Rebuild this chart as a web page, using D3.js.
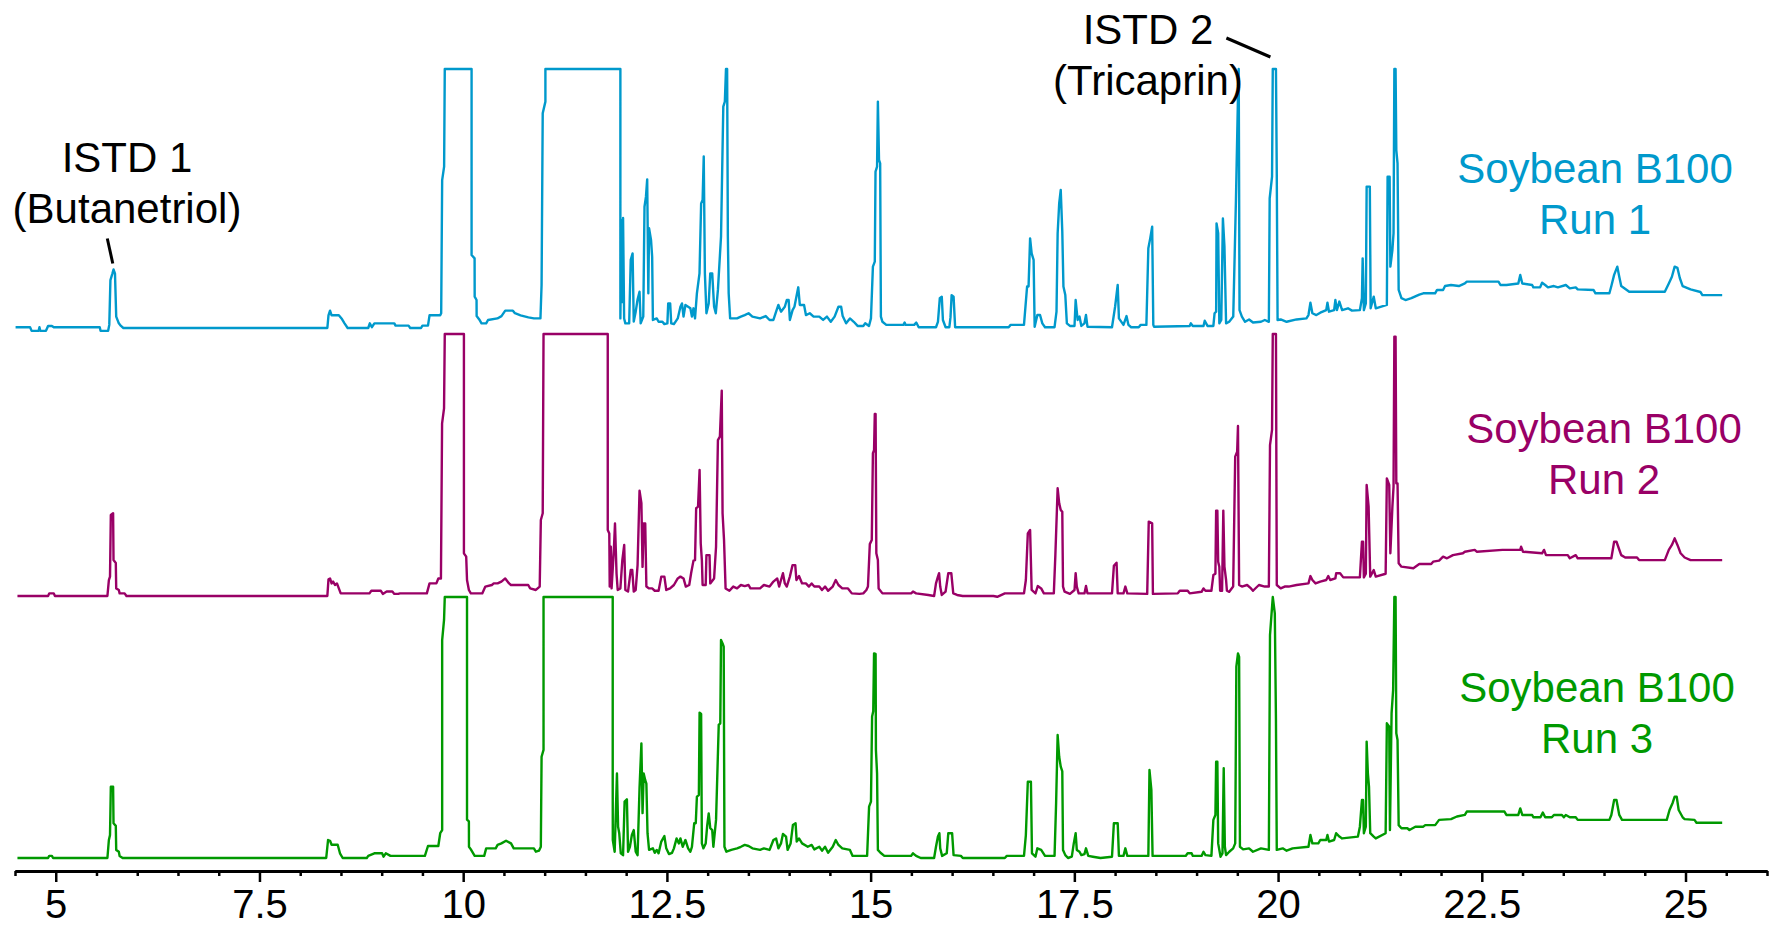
<!DOCTYPE html>
<html><head><meta charset="utf-8">
<script src="https://cdn.jsdelivr.net/npm/d3@7"></script>
<style>
body{margin:0;background:#fff}
svg{display:block}
text{font-family:"Liberation Sans",Arial,Helvetica,sans-serif}
</style>
</head><body>
<svg id="chart" width="1771" height="927"></svg>
<script>
// Retention time (min) vs. detector response (% of full scale, clipped at 100)
const run1 = [
[4.507,0.3],[4.685,0.3],[4.704,-1.1],[4.79,-1.1],[4.80,0.3],[4.81,-1.1],[4.88,-1.1],[4.906,0.8],[4.953,0.8],[4.976,0.3],[5.54,0.3],[5.55,-1.1],[5.643,-1.1],[5.657,1.2],[5.671,18.5],[5.695,21],[5.709,22.6],[5.727,21],[5.742,4.4],[5.774,1.8],[5.80,0.8],[5.83,0],
[8.333,0],[8.347,4.9],[8.366,6.7],[8.385,4.9],[8.474,4.9],[8.507,3.7],[8.544,1.8],[8.582,0],[8.835,0],[8.854,1.8],[8.88,0.3],[8.91,1.8],[9.155,1.8],[9.17,0.9],[9.33,0.9],[9.35,0],[9.483,0],[9.50,0.9],[9.568,0.9],[9.587,4.9],[9.718,4.9],[9.73,5.7],[9.742,57.1],[9.766,62.3],[9.774,100],[10.103,100],[10.103,28.2],[10.14,26.9],[10.141,12.1],[10.164,10.8],[10.165,4.6],[10.197,3.3],[10.225,1.8],[10.282,1.8],[10.305,3.1],[10.42,3.7],[10.47,4.6],[10.516,6.7],[10.61,6.7],[10.635,5.7],[10.704,4.9],[10.80,4.1],[10.868,3.7],[10.948,3.7],[10.962,16.6],[10.976,82.9],[11.009,87.4],[11.009,100],
[11.929,100],[11.929,3.7],[11.943,41.7],[11.955,10],[11.962,42.5],[11.975,3.7],[11.99,1.8],[12.037,1.8],[12.056,26.3],[12.079,28.8],[12.093,2.5],[12.117,6.3],[12.14,11],[12.164,14],[12.178,1.8],[12.21,4.4],[12.225,46.8],[12.243,50.7],[12.258,57.4],[12.272,13.4],[12.281,38.5],[12.305,34],[12.319,27.5],[12.328,3.1],[12.375,3.7],[12.398,2.4],[12.445,2.4],[12.469,1.5],[12.506,1.8],[12.516,9.5],[12.54,9.5],[12.553,1.8],[12.586,1.5],[12.633,3.7],[12.666,8.2],[12.685,9.5],[12.704,4.4],[12.727,8.9],[12.76,8.2],[12.788,7.6],[12.807,4.4],[12.826,7.6],[12.845,3.7],[12.868,13.4],[12.9,21.1],[12.92,48.1],[12.938,49.4],[12.952,66.2],[12.966,21.1],[12.985,5.7],[13.013,9.5],[13.032,21.1],[13.056,21.1],[13.079,8.2],[13.1,5.7],[13.126,14.7],[13.164,35.3],[13.192,85.5],[13.211,87.4],[13.225,100],[13.239,100],[13.248,35.3],[13.258,13.4],[13.276,3.7],[13.36,3.7],[13.408,4.4],[13.455,5],[13.502,5.7],[13.549,4.4],[13.643,3.7],[13.713,4.6],[13.76,3.1],[13.807,3.1],[13.84,6.3],[13.868,8.9],[13.9,6.3],[13.947,8.2],[13.971,10.8],[13.994,10.8],[14.009,3.1],[14.042,6.9],[14.065,8.2],[14.089,12.1],[14.112,15.7],[14.131,8.9],[14.183,8.9],[14.206,5],[14.253,5.7],[14.3,4.4],[14.37,4.4],[14.417,3.1],[14.464,4.4],[14.511,2.4],[14.558,4.4],[14.605,8.2],[14.638,8.2],[14.657,4.6],[14.699,1.8],[14.746,3.7],[14.793,2.4],[14.84,0.8],[14.91,0.8],[14.934,1.8],[14.98,0.8],[15.004,3.7],[15.028,23.7],[15.051,25.6],[15.06,60.4],[15.079,62.3],[15.089,87.4],[15.103,64.9],[15.117,63.6],[15.126,4.4],[15.145,2.4],[15.192,1.2],[15.403,1.2],[15.417,2.1],[15.43,1.2],[15.535,1.2],[15.56,2.1],[15.59,0.3],[15.802,0.3],[15.826,2.4],[15.849,11.5],[15.873,12.1],[15.887,3.1],[15.92,0.3],[15.966,0.3],[15.98,4.1],[15.994,12.7],[16.018,12.1],[16.037,0.3],[16.694,0.3],[16.718,1.2],[16.882,1.2],[16.92,16],[16.938,16],[16.957,34.6],[16.976,28.8],[17.0,26.3],[17.013,0.5],[17.046,5],[17.079,5],[17.107,1.8],[17.14,0.3],[17.257,0.3],[17.281,6.3],[17.295,36.6],[17.314,48.1],[17.333,53.3],[17.352,37.2],[17.366,16],[17.389,12.7],[17.408,1.8],[17.446,0.8],[17.502,0.8],[17.516,10.8],[17.54,3.1],[17.563,4.4],[17.586,0.8],[17.624,1.8],[17.643,5],[17.661,0.5],[17.962,0.3],[18.0,8.2],[18.032,16.6],[18.047,3.7],[18.103,1.2],[18.14,4.6],[18.164,1.2],[18.197,0.3],[18.29,0.3],[18.314,1.2],[18.384,1.2],[18.408,30.8],[18.431,34.6],[18.455,39.1],[18.469,1.2],
[18.478,0.5],[18.915,0.8],[18.93,1.8],[18.953,0.8],[19.085,0.8],[19.10,2.8],[19.134,0.8],[19.206,0.8],[19.221,5.7],[19.24,6.3],[19.245,40.4],[19.265,36.6],[19.279,1.8],[19.303,3.1],[19.323,42.3],[19.342,31.4],[19.362,1.8],[19.40,2.4],[19.45,4.4],[19.483,49.4],[19.508,89.3],[19.517,100],[19.527,6.9],[19.556,4.4],[19.595,2.4],[19.644,3.3],[19.693,2.1],[19.79,2.4],[19.838,3.1],[19.887,2.4],[19.897,50],[19.926,58.4],[19.935,100],[19.974,100],[19.984,59.7],[19.994,3.1],[20.032,3.3],[20.105,2.4],[20.227,3.3],[20.348,3.7],[20.373,5],[20.397,9.8],[20.421,5.7],[20.47,5],[20.518,5.9],[20.591,6.9],[20.606,9.8],[20.625,6.3],[20.688,6.9],[20.703,10.8],[20.722,6.9],[20.752,10.2],[20.786,6.9],[20.858,7.6],[20.907,6.7],[21.004,6.9],[21.029,11.5],[21.038,26.9],[21.053,6.9],[21.077,9.5],[21.087,54.6],[21.126,54.6],[21.136,7.6],[21.174,12.1],[21.199,7.6],[21.335,8.9],[21.344,58.4],[21.369,58.4],[21.378,23.7],[21.403,30.1],[21.417,36.6],[21.427,100],[21.442,100],[21.451,68.7],[21.466,63.6],[21.48,14.7],[21.514,11.5],[21.563,10.8],[21.636,11.5],[21.733,12.9],[21.782,13.4],[21.927,13.4],[21.951,14.7],[22.025,14.7],[22.049,16.2],[22.122,16.6],[22.219,16.2],[22.292,17.2],[22.316,17.9],[22.705,17.9],[22.729,16.6],[22.802,16.6],[22.948,17.2],[22.972,20.5],[22.997,17.2],[23.118,16.6],[23.133,15.7],[23.216,15.7],[23.24,17.5],[23.278,16.6],[23.312,15.7],[23.385,16.2],[23.434,15.7],[23.531,16.6],[23.58,15.3],[23.653,15.7],[23.677,14.9],[23.871,14.7],[23.895,13.4],[24.066,13.4],[24.09,16.2],[24.124,20.5],[24.163,23.7],[24.187,19.8],[24.211,16.2],[24.309,14],[24.746,14],[24.795,17.2],[24.833,19.8],[24.867,23.7],[24.901,23.2],[24.93,19.3],[24.965,16.2],[25.062,14.9],[25.183,13.9],[25.207,12.7],[25.45,12.7]
];
const run2 = [
[4.53,0],[4.906,0],[4.92,1],[4.976,1],[4.99,0],[5.634,0],[5.652,6.1],[5.666,7.4],[5.676,30.9],[5.704,31.6],[5.709,13.7],[5.737,12.6],[5.742,2.9],[5.774,2.3],[5.784,1],[5.845,1],[5.868,0],[8.333,0],[8.347,6.4],[8.366,6.7],[8.385,4.8],[8.404,5.5],[8.427,4.2],[8.451,4.8],[8.474,2.9],[8.497,1],[8.85,1],[8.873,2],[8.99,2],[9.014,0.8],[9.061,1.7],[9.131,1.7],[9.155,0.8],[9.202,0.8],[9.225,1],[9.554,1],[9.587,4.8],[9.671,4.8],[9.695,6.7],[9.727,6.7],[9.741,65.9],[9.765,71.6],[9.774,100],[10.009,100],[10.009,16.3],[10.037,15],[10.047,6.1],[10.07,2.3],[10.094,1],[10.234,1],[10.272,3.6],[10.352,4.2],[10.375,4.8],[10.422,4.8],[10.469,5.5],[10.516,6.7],[10.563,4.8],[10.586,4.2],[10.798,4.2],[10.822,2.9],[10.892,2.3],[10.939,3.6],[10.953,29],[10.976,31.6],[10.986,100],
[11.774,100],[11.774,25.2],[11.793,23.9],[11.798,3.6],[11.812,18.8],[11.821,2.9],[11.849,17.6],[11.863,27.7],[11.882,8.5],[11.896,2.3],[11.929,2.9],[11.953,13.7],[11.976,19.5],[11.99,2.3],[12.023,1.7],[12.056,9.9],[12.075,9.9],[12.093,1.7],[12.117,2.3],[12.14,11.8],[12.164,40.2],[12.187,35.4],[12.201,11.1],[12.215,27.7],[12.234,27.7],[12.248,3.6],[12.281,2.9],[12.319,2.9],[12.351,2],[12.398,2],[12.431,7.4],[12.469,7.4],[12.492,2.3],[12.539,2.9],[12.586,4.2],[12.633,6.7],[12.666,7.4],[12.704,6.7],[12.732,3.6],[12.774,4.2],[12.797,8.7],[12.826,13.5],[12.845,13.7],[12.859,33.5],[12.882,34.1],[12.901,48.1],[12.915,20.1],[12.929,13.7],[12.938,4.2],[12.976,4.2],[12.985,15.6],[13.023,15.6],[13.032,4.8],[13.079,6.7],[13.103,18.8],[13.126,59.5],[13.15,60.8],[13.173,78.4],[13.183,31.6],[13.201,21.4],[13.22,2.9],[13.267,2],[13.314,3.6],[13.361,2.9],[13.408,4.2],[13.455,3.8],[13.502,4.2],[13.525,2.9],[13.643,2.9],[13.69,4.2],[13.76,3.6],[13.807,5.5],[13.854,6.7],[13.877,3.6],[13.9,6.1],[13.924,8.7],[13.947,4.8],[13.971,3.6],[14.009,7.4],[14.042,11.8],[14.075,11.8],[14.089,6.1],[14.121,7.6],[14.159,4.8],[14.206,4.8],[14.243,3.6],[14.276,4.8],[14.309,3.6],[14.37,3.6],[14.403,2.3],[14.441,3.6],[14.478,2],[14.535,3.6],[14.572,6.1],[14.605,4.2],[14.652,2.9],[14.722,2.9],[14.769,1],[14.863,0.8],[14.91,1],[14.948,2.3],[14.967,3.6],[14.99,19.8],[15.014,21.4],[15.028,54.5],[15.042,55.7],[15.051,69.5],[15.061,69.5],[15.07,16.3],[15.089,13.7],[15.098,2.9],[15.145,1],[15.497,1],[15.52,1.7],[15.558,1],[15.708,0.4],[15.779,0],[15.802,4.8],[15.826,7.4],[15.84,8.7],[15.854,3.6],[15.873,0.4],[15.92,1.7],[15.953,8.7],[15.99,8.7],[16.014,1],[16.061,0.4],[16.13,0],[16.507,0],[16.554,-0.3],[16.647,1],[16.882,1],[16.905,6.1],[16.929,23.9],[16.957,25.2],[16.976,2.3],[17.023,1],[17.051,3.8],[17.093,2.9],[17.126,1],[17.248,1],[17.267,15.6],[17.295,41.1],[17.314,35.4],[17.333,32.8],[17.352,32.1],[17.361,3.6],[17.38,1.7],[17.446,0.8],[17.502,2.3],[17.516,8.7],[17.53,3.6],[17.553,1],[17.624,1],[17.643,3.8],[17.661,1],[17.962,1],[17.985,11.5],[18.018,12.7],[18.032,1],[18.103,1],[18.126,3.6],[18.15,1],[18.394,0.8],[18.413,28.4],[18.455,27.7],[18.464,0.8],
[18.769,1],[18.793,2],[18.891,2],[18.915,1],[19.061,1.6],[19.085,2.9],[19.109,2],[19.182,2],[19.206,8],[19.231,8.5],[19.24,32.6],[19.255,32.6],[19.265,13.1],[19.279,11.2],[19.289,2],[19.313,2],[19.328,32.6],[19.342,11.2],[19.362,6.1],[19.372,2],[19.401,1.6],[19.449,3.6],[19.474,53.2],[19.498,55.1],[19.508,64.9],[19.522,4.2],[19.556,3.6],[19.62,4.2],[19.668,2.9],[19.692,2],[19.765,4.2],[19.838,3.6],[19.887,3.6],[19.901,57.6],[19.926,63.4],[19.935,100],[19.974,100],[19.984,4.2],[20.032,2.9],[20.081,3.6],[20.13,3.6],[20.227,4.2],[20.373,4.8],[20.397,7.6],[20.421,6.1],[20.46,4.8],[20.518,5.5],[20.591,6.1],[20.616,7.6],[20.64,6.1],[20.703,6.7],[20.713,8.7],[20.761,8.7],[20.8,7.1],[21.004,7.1],[21.029,20.7],[21.043,20.7],[21.053,7.1],[21.077,8.5],[21.087,42.4],[21.111,34.1],[21.131,7.4],[21.174,9.9],[21.199,7.4],[21.32,8.5],[21.335,44.9],[21.364,42.4],[21.378,16.3],[21.403,34.1],[21.417,41.7],[21.427,99],[21.442,99],[21.451,43],[21.466,43],[21.48,12.5],[21.514,11.2],[21.66,10.6],[21.733,12.2],[21.879,12.2],[21.903,13.1],[21.976,13.5],[22.025,15],[22.073,14.4],[22.146,15.6],[22.268,16.3],[22.292,16.9],[22.413,17.6],[22.438,16.9],[22.753,17.6],[22.972,17.6],[22.982,18.8],[23.006,16.9],[23.24,16.3],[23.264,17.6],[23.288,15.6],[23.555,15.6],[23.58,14.4],[23.653,15.6],[23.677,14.4],[24.09,14.4],[24.124,20.7],[24.153,20.7],[24.211,15.6],[24.26,14.7],[24.405,14.7],[24.43,13.7],[24.746,13.7],[24.795,17.6],[24.833,19.5],[24.867,22],[24.901,19.5],[24.94,16.3],[24.989,14.7],[25.062,13.7],[25.45,13.7]
];
const run3 = [
[4.53,0],[4.906,0],[4.92,0.8],[4.953,0.8],[4.967,0],[5.634,0],[5.652,6.9],[5.666,8.8],[5.676,27.3],[5.704,27.3],[5.709,13.3],[5.737,12.3],[5.742,3.1],[5.774,2.4],[5.784,0.8],[5.821,0],[8.319,0],[8.342,6.9],[8.366,6.6],[8.385,5.1],[8.46,5.1],[8.488,1.8],[8.521,0],[8.817,0],[8.835,0.8],[8.91,1.8],[9.005,1.8],[9.023,0.5],[9.05,1.8],[9.108,0.8],[9.53,0.8],[9.568,4.6],[9.695,4.6],[9.718,9.5],[9.742,10.7],[9.742,83.5],[9.765,91.2],[9.774,100],[10.047,100],[10.047,14.7],[10.07,14],[10.071,4.3],[10.094,3.3],[10.141,0.8],[10.258,0.8],[10.282,3.7],[10.399,3.7],[10.422,5],[10.469,5.6],[10.526,6.6],[10.587,5.6],[10.62,3.7],[10.868,3.7],[10.892,2.4],[10.93,2.8],[10.953,4.3],[10.962,38.8],[10.986,41.4],[10.986,100],
[11.835,100],[11.835,27.3],[11.836,6.9],[11.859,2.4],[11.868,12],[11.887,32.4],[11.901,12],[11.915,9.5],[11.934,1.8],[11.962,1.1],[11.981,21.6],[12.009,22.5],[12.023,2.4],[12.046,4.3],[12.07,8.8],[12.093,10.7],[12.117,2.4],[12.14,1.1],[12.164,26.7],[12.187,43.9],[12.201,17.2],[12.215,32.4],[12.234,29.8],[12.248,28.5],[12.262,9.5],[12.281,3.1],[12.328,3.7],[12.351,2],[12.375,3.1],[12.398,1.8],[12.431,6.3],[12.469,8.4],[12.492,3.7],[12.525,1.5],[12.563,2],[12.586,3.7],[12.619,7.5],[12.647,5.6],[12.666,7.5],[12.694,4.3],[12.727,6.9],[12.76,3.7],[12.788,2.4],[12.807,4.3],[12.835,13.3],[12.854,13.3],[12.868,23.5],[12.892,24.1],[12.901,55.7],[12.92,55.2],[12.929,5.6],[12.948,3.7],[12.976,5.6],[12.995,12.6],[13.013,17.1],[13.032,11.4],[13.056,10.7],[13.07,4.3],[13.103,14.6],[13.136,51],[13.155,51.6],[13.164,83.5],[13.183,82.2],[13.197,81],[13.206,4.3],[13.23,2.4],[13.29,3.1],[13.361,3.7],[13.408,4.3],[13.455,5],[13.502,4.6],[13.549,3.7],[13.643,3.1],[13.69,3.7],[13.76,3.1],[13.807,6.9],[13.84,7.5],[13.868,3.7],[13.9,5.6],[13.924,9.2],[13.962,8.2],[13.981,3.1],[14.018,5.6],[14.046,12.6],[14.079,13.3],[14.093,6.3],[14.121,7.5],[14.159,5.6],[14.229,4.3],[14.276,5],[14.309,3.3],[14.37,4.3],[14.403,2.8],[14.441,4.3],[14.478,2],[14.535,4.3],[14.572,6.9],[14.605,5],[14.652,3.7],[14.746,3.1],[14.779,0.8],[14.957,0.8],[14.981,19.7],[15.004,21.6],[15.018,54.2],[15.032,56.2],[15.042,78.4],[15.061,78.2],[15.065,41.4],[15.079,32.4],[15.089,3.1],[15.121,2],[15.168,0.8],[15.497,0.8],[15.52,1.8],[15.558,0.8],[15.614,0],[15.779,0],[15.802,4.3],[15.826,8.2],[15.844,9.5],[15.854,3.7],[15.877,0.8],[15.934,1.8],[15.953,9.5],[16.0,9.5],[16.018,1.1],[16.108,0.8],[16.131,0],[16.647,0],[16.671,0.8],[16.882,0.8],[16.905,8.8],[16.929,29.2],[16.967,29.2],[16.98,1.8],[17.023,0.5],[17.046,3.7],[17.093,3.1],[17.14,0.8],[17.257,0.8],[17.276,20.9],[17.295,47.1],[17.314,38.8],[17.333,35],[17.352,33.2],[17.361,3.1],[17.389,1.1],[17.422,0],[17.469,0.5],[17.493,5.6],[17.516,9.5],[17.53,3.1],[17.563,2.4],[17.586,1.1],[17.624,1.5],[17.643,3.7],[17.671,0.8],[17.727,0.5],[17.821,0],[17.962,0.5],[17.985,13.3],[18.032,13.3],[18.047,0.8],[18.103,0.8],[18.126,3.7],[18.15,0.8],[18.408,0.8],[18.422,33.7],[18.445,26.1],[18.46,0.8],
[18.866,0.8],[18.89,1.8],[18.939,1.8],[18.954,0.8],[19.061,0.8],[19.085,2.4],[19.109,1.1],[19.182,0.8],[19.206,14.6],[19.231,16.5],[19.24,36.9],[19.255,36.9],[19.265,5.6],[19.294,0.5],[19.318,1.8],[19.333,34.4],[19.347,4.3],[19.362,1.1],[19.401,2.4],[19.449,3.7],[19.474,5.6],[19.488,73.3],[19.508,78.4],[19.522,77.1],[19.532,4.3],[19.571,3.3],[19.644,3.7],[19.692,2.4],[19.79,3.7],[19.887,3.1],[19.901,85.4],[19.935,100],[19.96,93.7],[19.974,52.9],[19.984,3.1],[20.057,3.7],[20.105,2.8],[20.178,3.7],[20.373,4.3],[20.397,8.8],[20.421,5.6],[20.494,5.6],[20.518,6.9],[20.591,6.9],[20.606,8.8],[20.625,6.3],[20.688,6.9],[20.713,9.5],[20.752,8.2],[20.786,7.5],[20.98,8.2],[21.004,12],[21.029,22.2],[21.043,22.2],[21.053,9.5],[21.077,12],[21.087,44.6],[21.102,32.4],[21.116,27.3],[21.131,9.5],[21.174,8.2],[21.199,7.5],[21.32,9.5],[21.335,51.6],[21.364,50.3],[21.373,10.7],[21.393,55.4],[21.412,64.4],[21.427,100],[21.442,100],[21.451,47.8],[21.466,45.2],[21.48,12.6],[21.514,11.4],[21.587,11.4],[21.612,10.7],[21.685,12],[21.782,12],[21.806,12.6],[21.928,12.6],[21.976,14.6],[22.122,14.9],[22.195,15.9],[22.292,16.5],[22.316,17.8],[22.778,17.8],[22.802,16.5],[22.948,16.5],[22.972,19],[22.997,16.5],[23.118,16.5],[23.133,15.6],[23.22,15.6],[23.249,17.4],[23.278,15.6],[23.36,15.6],[23.385,16.5],[23.483,16.5],[23.507,15.6],[23.531,16.5],[23.58,15.6],[23.653,15.6],[23.677,14.6],[24.066,14.6],[24.09,16.5],[24.124,22.2],[24.153,22.2],[24.187,16.5],[24.221,14.6],[24.77,14.6],[24.804,18.4],[24.843,21.2],[24.867,23.5],[24.892,23.5],[24.916,18.4],[24.965,15.6],[24.989,14.9],[25.11,14.6],[25.135,13.5],[25.45,13.5]
];

const xDomain = [4.5, 26];
const majorTicks = [5, 7.5, 10, 12.5, 15, 17.5, 20, 22.5, 25];
const tickLabels = ["5", "7.5", "10", "12.5", "15", "17.5", "20", "22.5", "25"];
const minorTicks = [4.5,5.5,6,6.5,7,8,8.5,9,9.5,10.5,11,11.5,12,13,13.5,14,14.5,15.5,16,16.5,17,18,18.5,19,19.5,20.5,21,21.5,22,23,23.5,24,24.5,25.5,26];
const seriesNames = ["Run 1", "Run 2", "Run 3"];
const seriesTitle = "Soybean B100";
const annotations = [["ISTD 1", "(Butanetriol)"], ["ISTD 2", "(Tricaprin)"]];
const annotatedPeaks = [[5.70, 22.6], [19.955, 100]]; // peaks the leader lines point to (Run 1)

// ---- layout / style ----
const colors = ["#0099cc", "#990066", "#009900"];
const panels = [ {base: 328, top: 69}, {base: 596, top: 334}, {base: 858, top: 597} ];
const legendPos = [ {x: 1595, y: 183}, {x: 1604, y: 443}, {x: 1597, y: 702} ];
const runs = [run1, run2, run3];

const svg = d3.select("#chart");
const x = d3.scaleLinear().domain(xDomain).range([15, 1767]);
const axisY = 871;

runs.forEach((data, i) => {
  const y = d3.scaleLinear().domain([0, 100]).range([panels[i].base, panels[i].top]);
  const line = d3.line().x(d => x(d[0])).y(d => y(Math.min(100, d[1])));
  svg.append("path")
    .datum(data)
    .attr("d", line)
    .attr("fill", "none")
    .attr("stroke", colors[i])
    .attr("stroke-width", 2.4)
    .attr("stroke-linejoin", "round");
  const lg = svg.append("text")
    .attr("x", legendPos[i].x).attr("y", legendPos[i].y)
    .attr("text-anchor", "middle")
    .attr("fill", colors[i])
    .style("font-size", "42px");
  lg.append("tspan").attr("x", legendPos[i].x).text(seriesTitle);
  lg.append("tspan").attr("x", legendPos[i].x).attr("dy", 51).text(seriesNames[i]);
});

// axis
const gAxis = svg.append("g").attr("transform", `translate(0,${axisY})`);
gAxis.call(d3.axisBottom(x).tickValues(minorTicks).tickSize(5).tickFormat("").tickSizeOuter(0));
const gMajor = svg.append("g").attr("transform", `translate(0,${axisY})`);
gMajor.call(d3.axisBottom(x).tickValues(majorTicks).tickSize(11).tickSizeOuter(0)
  .tickFormat((d, i) => tickLabels[i]).tickPadding(12));
[gAxis, gMajor].forEach(g => {
  g.select(".domain").attr("stroke", "#000").attr("stroke-width", 3);
  g.selectAll(".tick line").attr("stroke", "#000").attr("stroke-width", 2.5);
});
gMajor.selectAll(".tick text")
  .attr("fill", "#000")
  .style("font-size", "40px")
  .style("font-family", '"Liberation Sans",Arial,sans-serif')
  .attr("y", 47).attr("dy", 0);

// annotations
const annPos = [ {x: 127, y: 172}, {x: 1148, y: 44} ];
annotations.forEach((a, i) => {
  const t = svg.append("text")
    .attr("x", annPos[i].x).attr("y", annPos[i].y)
    .attr("text-anchor", "middle").attr("fill", "#000")
    .style("font-size", "42px");
  t.append("tspan").attr("x", annPos[i].x).text(a[0]);
  t.append("tspan").attr("x", annPos[i].x).attr("dy", 51).text(a[1]);
});
// leader lines pointing at the internal-standard peaks
const y1 = d3.scaleLinear().domain([0, 100]).range([panels[0].base, panels[0].top]);
const leaderOffsets = [ [-5.5, -31, 0, -6], [-48, -31, -4, -12] ];
annotatedPeaks.forEach((p, i) => {
  const px = x(p[0]), py = y1(p[1]);
  const o = leaderOffsets[i];
  svg.append("line")
    .attr("x1", px + o[0]).attr("y1", py + o[1])
    .attr("x2", px + o[2]).attr("y2", py + o[3])
    .attr("stroke", "#000").attr("stroke-width", 3);
});
</script>
</body></html>
